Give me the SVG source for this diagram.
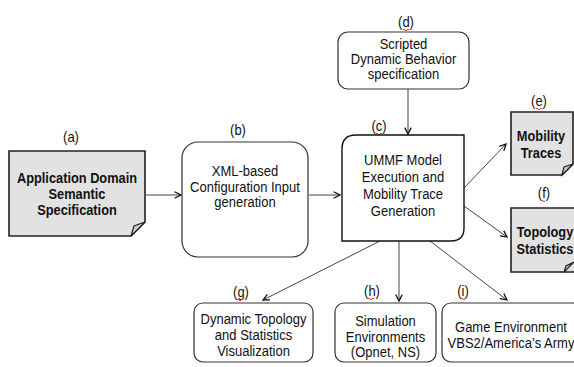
<svg xmlns="http://www.w3.org/2000/svg" width="574" height="367" viewBox="0 0 574 367">
<defs>
<style>
text{font-family:"Liberation Sans",Arial,sans-serif;font-size:13px;fill:#111;text-anchor:middle}
.b{font-weight:bold;font-size:12.8px}
.box{fill:#fff;stroke:#333;stroke-width:1.2}
.doc{fill:#e2e2e2;stroke:#222;stroke-width:1.6}
.fold{fill:#cfcfcf;stroke:#222;stroke-width:1.2}
.conn{stroke:#444;stroke-width:1;fill:none;marker-end:url(#ah)}
.sq{stroke:#d33;stroke-width:1;fill:none}
</style>
<marker id="ah" viewBox="0 0 10 10" refX="9" refY="5" markerWidth="8" markerHeight="8" markerUnits="userSpaceOnUse" orient="auto">
<path d="M1,1 L9,5 L1,9" fill="none" stroke="#111" stroke-width="1.6"/>
</marker>
</defs>
<g id="connectors">
<line class="conn" x1="146" y1="195" x2="181" y2="195"/>
<line class="conn" x1="309" y1="195" x2="340" y2="195"/>
<line class="conn" x1="408" y1="89" x2="408" y2="134"/>
<line class="conn" x1="464" y1="188" x2="506" y2="144"/>
<line class="conn" x1="464" y1="206" x2="507" y2="237"/>
<line class="conn" x1="380" y1="241" x2="263" y2="300"/>
<line class="conn" x1="399" y1="241" x2="399" y2="301"/>
<line class="conn" x1="430" y1="241" x2="507" y2="300"/>
</g>
<g id="node-a">
<text transform="translate(71,142) scale(1,1.15)">(a)</text>
<path class="doc" d="M9,151 H145 V222 L131,236 H9 Z"/>
<path class="fold" d="M145,222 L134,226 L131,236 Z"/>
<text class="b" transform="translate(77,183) scale(1,1.2)">Application Domain</text>
<text class="b" transform="translate(77,199) scale(1,1.2)">Semantic</text>
<text class="b" transform="translate(77,215) scale(1,1.2)">Specification</text>
</g>
<g id="node-b">
<text transform="translate(238,135) scale(1,1.15)">(b)</text>
<rect class="box" x="182" y="142" width="126" height="115" rx="16"/>
<text transform="translate(245,176) scale(1,1.12)">XML-based</text>
<text transform="translate(245,192) scale(1,1.12)">Configuration Input</text>
<text transform="translate(245,207) scale(1,1.12)">generation</text>
</g>
<g id="node-d">
<text transform="translate(406,27) scale(1,1.15)">(d)</text>
<path class="sq" d="M403,30 q1,-1.5 2,0 t2,0 t2,0"/>
<rect class="box" x="338" y="32" width="131" height="57" rx="10"/>
<text transform="translate(403.5,49) scale(1,1.12)">Scripted</text>
<text transform="translate(403.5,64) scale(1,1.12)">Dynamic Behavior</text>
<text transform="translate(403.5,79) scale(1,1.12)">specification</text>
</g>
<g id="node-c">
<text transform="translate(379,131) scale(1,1.15)">(c)</text>
<path class="sq" d="M376,134 q1,-1.5 2,0 t2,0 t2,0"/>
<path class="box" d="M356,135 H464 V228 Q464,241 451,241 H342 V149 Q342,135 356,135 Z" style="stroke-width:1.4;stroke:#111"/>
<text transform="translate(403,165) scale(1,1.12)">UMMF Model</text>
<text transform="translate(403,182) scale(1,1.12)">Execution and</text>
<text transform="translate(403,199) scale(1,1.12)">Mobility Trace</text>
<text transform="translate(403,216) scale(1,1.12)">Generation</text>
</g>
<g id="node-e">
<text transform="translate(539,106) scale(1,1.15)">(e)</text>
<path class="sq" d="M536,109 q1,-1.5 2,0 t2,0 t2,0"/>
<path class="doc" d="M511,112 H573 V164 L562,175 H511 Z"/>
<path class="fold" d="M573,164 L564,167 L562,175 Z"/>
<text class="b" transform="translate(541,141) scale(1,1.2)">Mobility</text>
<text class="b" transform="translate(541,158) scale(1,1.2)">Traces</text>
</g>
<g id="node-f">
<text transform="translate(544,198) scale(1,1.15)">(f)</text>
<path class="sq" d="M541,201 q1,-1.5 2,0 t2,0"/>
<path class="doc" d="M511,208 H578 V272 H511 Z"/>
<path class="fold" d="M574,262 L566,266 L564,272 Z"/>
<text class="b" transform="translate(545,237) scale(1,1.2)">Topology</text>
<text class="b" transform="translate(545,254) scale(1,1.2)">Statistics</text>
</g>
<g id="node-g">
<text transform="translate(241,297) scale(1,1.15)">(g)</text>
<path class="sq" d="M237,300 q1,-1.5 2,0 t2,0 t2,0"/>
<rect class="box" x="194" y="303" width="119" height="59" rx="9"/>
<text transform="translate(253.5,324) scale(1,1.12)">Dynamic Topology</text>
<text transform="translate(253.5,340) scale(1,1.12)">and Statistics</text>
<text transform="translate(253.5,356) scale(1,1.12)">Visualization</text>
</g>
<g id="node-h">
<text transform="translate(372,296) scale(1,1.15)">(h)</text>
<path class="sq" d="M368,299 q1,-1.5 2,0 t2,0 t2,0"/>
<rect class="box" x="335" y="303" width="101" height="59" rx="9"/>
<text transform="translate(385.5,326) scale(1,1.12)">Simulation</text>
<text transform="translate(385.5,342) scale(1,1.12)">Environments</text>
<text transform="translate(385.5,357) scale(1,1.12)">(Opnet, NS)</text>
</g>
<g id="node-i">
<text transform="translate(463,296) scale(1,1.15)">(i)</text>
<path class="sq" d="M461,299 q1,-1.5 2,0 t2,0"/>
<rect class="box" x="442" y="303" width="140" height="59" rx="9"/>
<text transform="translate(511,332) scale(1,1.12)">Game Environment</text>
<text transform="translate(511,348) scale(1,1.12)">VBS2/America’s Army</text>
</g>
</svg>
